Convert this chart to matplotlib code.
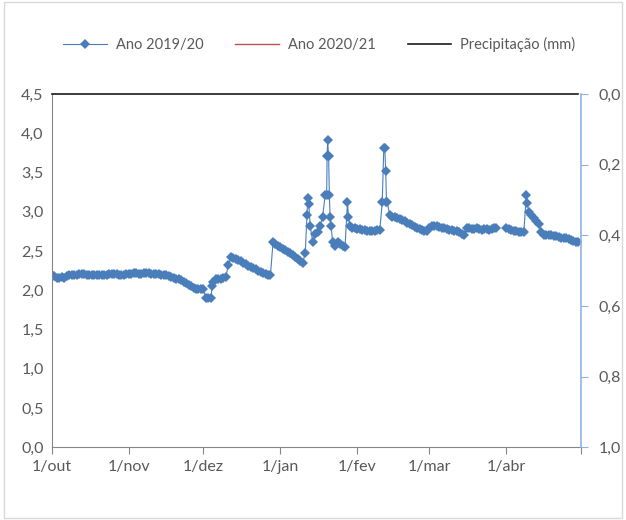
import matplotlib
matplotlib.use("Agg")
import matplotlib.pyplot as plt
import matplotlib.patches as mpatches
import numpy as np
import pandas as pd

# --- data: nivel lido (dias contados a partir de 1/out/2019) ---
inicio = pd.Timestamp("2019-10-01")

nivel_diario = [
    2.19, 2.18, 2.16, 2.16, 2.17, 2.16, 2.18, 2.19, 2.19, 2.20, 2.20,   # 0-10
    2.21, 2.21, 2.21, 2.20, 2.20, 2.20, 2.20, 2.19, 2.19, 2.20,         # 11-20
    2.20, 2.20, 2.21, 2.21, 2.21, 2.21, 2.20, 2.20, 2.20, 2.21,         # 21-30
    2.21, 2.21, 2.22, 2.22, 2.21, 2.21, 2.22, 2.22, 2.22, 2.21,         # 31-40
    2.21, 2.21, 2.21, 2.20, 2.20, 2.19, 2.18, 2.17, 2.16, 2.15,         # 41-50
    2.14, 2.13, 2.11, 2.09, 2.07, 2.05, 2.03, 2.02, 2.01, 2.01,         # 51-60
    2.01, 1.90, 1.90, 1.90, 2.10, 2.14, 2.15, 2.15, 2.16, 2.17,         # 61-70
    2.32, 2.42, 2.41, 2.40, 2.39, 2.37, 2.35, 2.33, 2.31, 2.30,         # 71-80
    2.28, 2.27, 2.25, 2.23, 2.22, 2.21, 2.20, 2.20, 2.61, 2.59,         # 81-90
    2.57, 2.55, 2.53, 2.51, 2.49, 2.47, 2.45, 2.42, 2.40, 2.37,         # 91-100
    2.35, 2.48, 3.17, 2.82, 2.62, 2.72, 2.74, 2.82, 2.94, 3.21,         # 101-110
    3.91, 2.94, 2.62, 2.57, 2.62, 2.59, 2.57, 2.55, 3.12, 2.82,         # 111-120
    2.80, 2.79, 2.78, 2.78, 2.77, 2.77, 2.76, 2.76, 2.76, 2.76,         # 121-130
    2.77, 2.77, 3.12, 3.81, 3.12, 2.96, 2.94, 2.93, 2.92, 2.91,         # 131-140
    2.90, 2.88, 2.86, 2.85, 2.83, 2.81, 2.79, 2.78, 2.77, 2.76,         # 141-150
    2.76, 2.79, 2.82, 2.82, 2.82, 2.81, 2.80, 2.79, 2.78, 2.77,         # 151-160
    2.77, 2.76, 2.75, 2.74, 2.72, 2.71, 2.80, 2.79, 2.78, 2.78,         # 161-170
    2.79, 2.78, 2.77, 2.78, 2.78, 2.77, 2.78, 2.79, 2.80, np.nan,       # 171-180
    np.nan, np.nan, 2.79, 2.78, 2.77, 2.76, 2.75, 2.74, 2.74, 2.74,     # 181-190
    3.21, 3.00, 2.96, 2.92, 2.88, 2.84, 2.74, 2.71, 2.70, 2.70,         # 191-200
    2.70, 2.69, 2.69, 2.68, 2.67, 2.67, 2.66, 2.65, 2.64, 2.63,         # 201-210
    2.62, 2.61,                                                         # 211-212
]

# leituras extra (mais de uma por dia) nos eventos
extra_dia = [64.5, 102.7, 103.4, 110.6, 110.8, 111.4, 111.7, 112.4, 119.4, 133.6, 134.4, 134.7, 191.4]
extra_nivel = [2.05, 2.96, 3.10, 3.21, 3.71, 3.71, 3.21, 2.82, 2.94, 3.81, 3.52, 3.12, 3.11]

nivel_2021 = [2.17, 2.16, 2.16, 2.17, 2.16, 2.17]
precipitacao = [0.0] * 213

meses = ["1/out", "1/nov", "1/dez", "1/jan", "1/fev", "1/mar", "1/abr", ""]

# ---------------------------------------------------------------
azul = "#4a7ebb"
cinza = "#595959"

plt.rcParams["font.family"] = ["Lato", "DejaVu Sans"]

dias = list(range(len(nivel_diario))) + extra_dia
vals = nivel_diario + extra_nivel
serie = pd.Series(vals, index=dias).sort_index()
datas = inicio + pd.to_timedelta(serie.index, unit="D")

fig = plt.figure(figsize=(6.26, 5.2), dpi=100)
ax = fig.add_axes([0.083, 0.140, 0.845, 0.679])
ax2 = ax.twinx()

l2, = ax.plot(inicio + pd.to_timedelta(range(len(nivel_2021)), unit="D"), nivel_2021,
              color="#c0504d", lw=1.0, zorder=1)
l1, = ax.plot(datas, serie.values, color=azul, lw=0.8, marker="D", markersize=5.5,
              markeredgewidth=0, zorder=2)
l3, = ax2.plot(inicio + pd.to_timedelta(range(len(precipitacao)), unit="D"), precipitacao,
               color="#1a1a1a", lw=1.2, clip_on=False)

ax.set_xlim(inicio, pd.Timestamp("2020-05-01"))
ax.set_ylim(0, 4.5)
ax2.set_ylim(1.0, 0.0)

ax.set_yticks(np.arange(0, 4.51, 0.5))
ax.set_yticklabels([f"{v:.1f}".replace(".", ",") for v in np.arange(0, 4.51, 0.5)])
ax2.set_yticks(np.arange(0, 1.01, 0.2))
ax2.set_yticklabels([f"{v:.1f}".replace(".", ",") for v in np.arange(0, 1.01, 0.2)])

ticks = pd.date_range("2019-10-01", "2020-05-01", freq="MS")
ax.set_xticks(ticks)
ax.set_xticklabels(meses)

for a in (ax, ax2):
    a.spines["top"].set_visible(False)
ax.spines["left"].set_color("#868686")
ax.spines["bottom"].set_color("#868686")
ax.spines["right"].set_visible(False)
ax2.spines["left"].set_visible(False)
ax2.spines["bottom"].set_visible(False)
ax2.spines["right"].set_color("#8eb4e3")
ax2.spines["right"].set_linewidth(1.2)

ax.tick_params(axis="y", length=0, pad=6, labelsize=11.5, labelcolor=cinza)
ax.tick_params(axis="x", length=5, color="#868686", pad=4, labelsize=11.5, labelcolor=cinza)
ax2.tick_params(axis="y", length=5, color="#8eb4e3", pad=8, labelsize=11.5, labelcolor=cinza)

fig.legend([l1, l2, l3], ["Ano 2019/20", "Ano 2020/21", "Precipitação (mm)"],
           loc="center", bbox_to_anchor=(0.51, 0.915), ncol=3, frameon=False,
           fontsize=10.5, labelcolor=cinza, handlelength=3.0, handletextpad=0.6,
           columnspacing=2.2)

fig.patches.append(mpatches.Rectangle((0.006, 0.004), 0.987, 0.993, transform=fig.transFigure,
                                      fill=False, edgecolor="#d9d9d9", lw=1.0))

plt.savefig("out.png", dpi=100)
